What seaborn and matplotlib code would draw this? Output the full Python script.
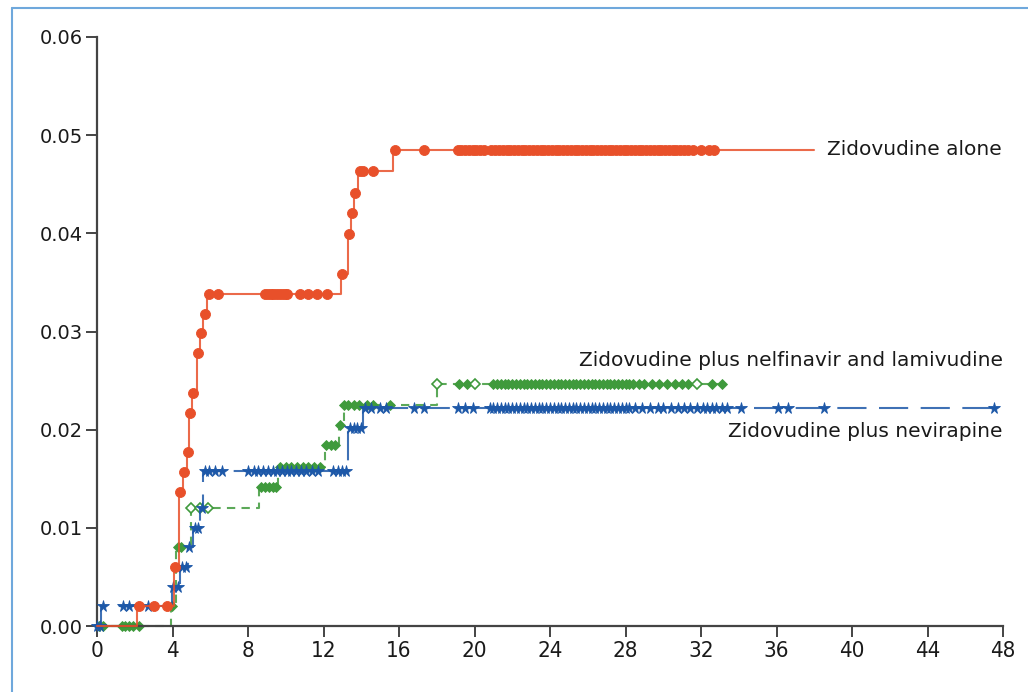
import numpy as np
import pandas as pd
import seaborn as sns
import matplotlib.pyplot as plt
from matplotlib.lines import Line2D

# step curves: time of each step and level reached there
alone_t = [0, 2.1, 4.1, 4.35, 4.55, 4.75, 4.9, 5.05, 5.3, 5.45, 5.62, 5.85,
           12.95, 13.3, 13.45, 13.6, 13.85, 15.7, 38.0]
alone_y = [0, 0.002, 0.006, 0.0137, 0.0157, 0.0177, 0.0217, 0.0237, 0.0278,
           0.0298, 0.0318, 0.0338, 0.0359, 0.0399, 0.0421, 0.0441, 0.0463,
           0.0485, 0.0485]
alone_marks = [2.2, 3.0, 3.7, 4.15, 4.4, 4.6, 4.8, 4.95, 5.1, 5.35, 5.5, 5.7,
               5.95, 6.4, 8.9, 9.05, 9.2, 9.35, 9.5, 9.65, 9.8, 9.95, 10.05,
               10.75, 11.2, 11.65, 12.2, 13.0, 13.35, 13.5, 13.67, 13.95,
               14.1, 14.6, 15.8, 17.3,
               19.1, 19.3, 19.5, 19.7, 19.9, 20.1, 20.3, 20.5, 20.9, 21.1,
               21.3, 21.5, 21.7, 21.9, 22.1, 22.3, 22.5, 22.7, 22.9, 23.1,
               23.3, 23.5, 23.7, 23.9, 24.1, 24.3, 24.5, 24.7, 24.9, 25.1,
               25.3, 25.5, 25.7, 25.9, 26.1, 26.3, 26.5, 26.7, 26.9, 27.1,
               27.3, 27.5, 27.7, 27.9, 28.1, 28.3, 28.5, 28.7, 28.9, 29.1,
               29.3, 29.5, 29.7, 29.9, 30.1, 30.3, 30.5, 30.7, 30.9, 31.1,
               31.3, 31.6, 32.0, 32.4, 32.7]

nevi_t = [0, 0.2, 3.95, 4.4, 4.8, 5.1, 5.45, 5.6, 13.3, 14.1, 47.5]
nevi_y = [0, 0.002, 0.004, 0.006, 0.008, 0.010, 0.012, 0.0158, 0.0202,
          0.0222, 0.0222]
nevi_marks = [0.0, 0.15, 0.3, 1.4, 1.7, 2.7, 4.0, 4.3, 4.5, 4.7, 4.9, 5.2,
              5.35, 5.55, 5.7, 5.95, 6.25, 6.6, 8.0, 8.3, 8.55, 8.8, 9.05,
              9.3, 9.55, 9.8, 10.05, 10.3, 10.55, 10.8, 11.05, 11.4, 11.7,
              12.5, 12.75, 13.0, 13.2, 13.4, 13.6, 13.8, 14.0, 14.2, 14.5,
              15.0, 15.3, 16.8, 17.3, 19.1, 19.5, 19.9,
              20.8, 21.0, 21.2, 21.4, 21.6, 21.8, 22.0, 22.2, 22.4, 22.6,
              22.8, 23.0, 23.2, 23.4, 23.6, 23.8, 24.0, 24.2, 24.4, 24.6,
              24.8, 25.0, 25.2, 25.4, 25.6, 25.8, 26.0, 26.2, 26.4, 26.6,
              26.8, 27.0, 27.2, 27.4, 27.6, 27.8, 28.0, 28.2,
              28.5, 28.9, 29.3, 29.7, 30.0, 30.4, 30.8, 31.1, 31.4, 31.8,
              32.1, 32.3, 32.6, 32.8, 33.1, 33.4, 34.1, 36.1, 36.6, 38.5,
              47.5]

nelf_t = [0, 3.9, 4.2, 5.0, 8.6, 9.6, 12.1, 12.8, 13.1, 18.0, 33.2]
nelf_y = [0, 0.002, 0.008, 0.012, 0.0142, 0.0162, 0.0184, 0.0205, 0.0225,
          0.0247, 0.0247]
nelf_marks = [0.1, 0.3, 1.3, 1.5, 1.7, 1.9, 2.2, 3.95, 4.3, 4.45, 8.7, 8.9,
              9.1, 9.3, 9.5, 9.7, 10.0, 10.3, 10.6, 10.9, 11.2, 11.5, 11.8,
              12.15, 12.4, 12.6, 12.85, 13.1, 13.3, 13.6, 13.9, 14.3, 14.6,
              15.5, 19.2, 19.6,
              21.0, 21.2, 21.4, 21.6, 21.8, 22.0, 22.2, 22.4, 22.6, 22.8,
              23.0, 23.2, 23.4, 23.6, 23.8, 24.0, 24.2, 24.4, 24.6, 24.8,
              25.0, 25.2, 25.4, 25.6, 25.8, 26.0, 26.2, 26.4, 26.6, 26.8,
              27.0, 27.2, 27.4, 27.6, 27.8, 28.0, 28.2, 28.4,
              28.7, 29.0, 29.4, 29.8, 30.2, 30.6, 31.0, 31.3, 32.6, 33.1]
nelf_open = [5.0, 5.45, 5.9, 18.0, 20.0, 31.8]

x_ticks = [0, 4, 8, 12, 16, 20, 24, 28, 32, 36, 40, 44, 48]
y_ticks = [0.00, 0.01, 0.02, 0.03, 0.04, 0.05, 0.06]

ORANGE = '#e8502a'
BLUE = '#1d58a8'
GREEN = '#3f9a3c'


def level_at(step_t, step_y, times):
    idx = np.searchsorted(step_t, times, side='right') - 1
    return np.asarray(step_y)[np.clip(idx, 0, None)]


sns.set_theme(style='ticks')
plt.rcParams['font.family'] = ['DejaVu Sans']

fig = plt.figure(figsize=(10.28, 6.92), dpi=100)
ax = fig.add_axes([97 / 1028, 1 - 626 / 692, 906 / 1028, 589 / 692])

curves = [
    (alone_t, alone_y, alone_marks, ORANGE, 'o', 7.2, 4),
    (nelf_t, nelf_y, nelf_marks, GREEN, 'D', 5.5, 2),
    (nevi_t, nevi_y, nevi_marks, BLUE, '*', 8.5, 3),
]
for st, sy, marks, col, mk, ms, z in curves:
    df = pd.DataFrame({'t': st, 'y': sy})
    sns.lineplot(data=df, x='t', y='y', color=col, ax=ax, estimator=None,
                 drawstyle='steps-post', linewidth=1.5, zorder=z, alpha=0.85)
    line = ax.lines[-1]
    line.set_clip_on(False)
    if col == GREEN:
        line.set_dashes((4, 3))
    elif col == BLUE:
        line.set_dashes((14, 6))
    mdf = pd.DataFrame({'t': marks, 'y': level_at(st, sy, marks)})
    ax.plot(mdf['t'], mdf['y'], linestyle='none', marker=mk, markersize=ms,
            color=col, markeredgewidth=0.6, zorder=z + 0.5, clip_on=False)

odf = pd.DataFrame({'t': nelf_open, 'y': level_at(nelf_t, nelf_y, nelf_open)})
ax.plot(odf['t'], odf['y'], linestyle='none', marker='D', markersize=5,
        markerfacecolor='white', markeredgecolor=GREEN, markeredgewidth=1.2,
        zorder=2.6, clip_on=False)

ax.set_xlim(0, 48)
ax.set_ylim(0, 0.06)
ax.set_xticks(x_ticks)
ax.set_yticks(y_ticks)
ax.set_yticklabels([f'{v:.2f}' for v in y_ticks], fontsize=14, color='#1a1a1a')
ax.set_xticklabels([str(v) for v in x_ticks], fontsize=16, color='#1a1a1a',
                   fontstretch='condensed')
ax.set_xlabel('')
ax.set_ylabel('')
for side in ['top', 'right']:
    ax.spines[side].set_visible(False)
for side in ['left', 'bottom']:
    ax.spines[side].set_color('#444444')
    ax.spines[side].set_linewidth(1.6)
ax.tick_params(direction='out', length=8, width=1.4, color='#444444')
ax.tick_params(axis='y', pad=2)
ax.tick_params(axis='x', pad=3)

lab = dict(fontsize=14.5, va='center', color='#1a1a1a')
ax.text(38.7, 0.0485, 'Zidovudine alone', ha='left', **lab)
ax.text(48, 0.0270, 'Zidovudine plus nelfinavir and lamivudine', ha='right',
        **lab)
ax.text(48, 0.0198, 'Zidovudine plus nevirapine', ha='right', **lab)

# light blue frame around the panel
fig.add_artist(Line2D([12 / 1028, 12 / 1028], [0, 1 - 8 / 692],
                      transform=fig.transFigure, color='#6fa8dc', linewidth=1.5))
fig.add_artist(Line2D([12 / 1028, 1], [1 - 8 / 692, 1 - 8 / 692],
                      transform=fig.transFigure, color='#6fa8dc', linewidth=1.5))

plt.savefig('out.png', dpi=100)
